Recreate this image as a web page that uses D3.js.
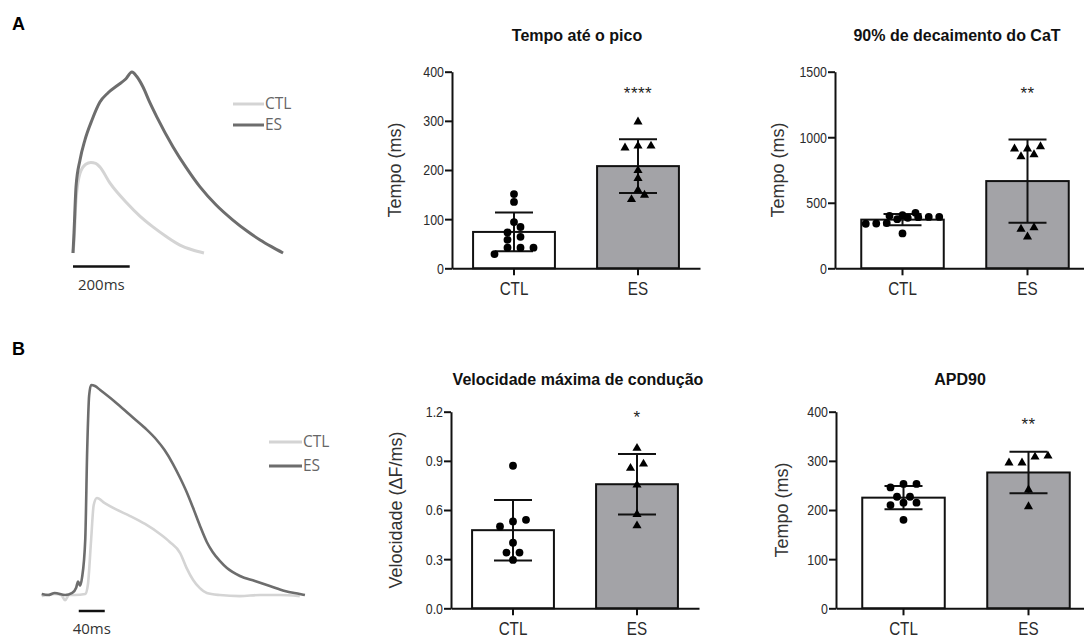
<!DOCTYPE html>
<html>
<head>
<meta charset="utf-8">
<script src="https://cdn.jsdelivr.net/npm/d3@7"></script>
<style>
  body { margin: 0; background: #fff; }
  svg { display: block; }
  .tick text { font-family: "Liberation Sans", Arial, sans-serif; fill: #2a2a2a; }
</style>
</head>
<body>
<div id="chart"></div>
<script>
// traços representativos: [tempo (ms), amplitude normalizada]
const transA_CTL = [[0,0],[3.5,0.06],[10.6,0.29],[24.7,0.44],[45,0.49],[63,0.50],[80,0.495],[95,0.475],[130,0.387],[190,0.276],[235,0.205],[282,0.144],[330,0.09],[377,0.044],[420,0.018],[462,0]];
const transA_ES = [[0,0],[3.5,0.11],[10.6,0.365],[24.7,0.514],[42,0.624],[67,0.735],[95,0.834],[123,0.884],[159,0.928],[185,0.96],[208,1.0],[225,0.975],[247,0.917],[270,0.835],[296,0.751],[353,0.586],[400,0.47],[448,0.365],[505,0.265],[564,0.182],[615,0.12],[660,0.072],[700,0.035],[741,0]];
const potB_CTL = [[0,-0.01],[20,0],[30,-0.005],[36,-0.03],[42,-0.005],[51,-0.005],[67,0],[71,0.043],[76,0.258],[80,0.426],[85,0.459],[97,0.435],[113,0.407],[136,0.373],[159,0.335],[182,0.287],[197,0.249],[213,0.196],[223,0.124],[233,0.067],[243,0.029],[254,0.005],[274,-0.005],[305,-0.01],[336,-0.005],[366,-0.005],[397,-0.01]];
const potB_ES = [[0,0],[10,-0.005],[20,0.005],[36,-0.005],[47,0.005],[53,0.03],[56,0.06],[59,0.04],[62,0.077],[67,0.26],[70,0.69],[73,0.95],[76,1.0],[82,0.995],[90,0.976],[113,0.919],[136,0.856],[159,0.794],[177,0.737],[189,0.689],[202,0.622],[213,0.555],[223,0.488],[233,0.411],[243,0.33],[254,0.249],[263,0.201],[274,0.158],[285,0.124],[305,0.086],[328,0.062],[351,0.038],[374,0.014],[397,0],[405,-0.005]];

// gráficos de barras
const grupos = ['CTL', 'ES'];
const picoCTL = [151, 135, 94, 84, 73, 58, 64, 29, 42, 42, 42];
const picoES = [298, 249, 245, 249, 199, 183, 159, 140, 149];
const decaiCTL = [392, 405, 423, 400, 392, 390, 375, 385, 345, 342, 340, 266];
const decaiES = [912, 929, 853, 868, 912, 311, 299, 240];
const velCTL = [0.87, 0.50, 0.54, 0.53, 0.40, 0.34, 0.34, 0.295];
const velES = [0.977, 0.881, 0.855, 0.753, 0.574, 0.504];
const apdCTL = [253, 253, 246, 227, 227, 215, 215, 210, 180];
const apdES = [296, 308, 310, 296, 241, 207];
const ticksPico = [0, 100, 200, 300, 400];
const ticksDecai = [0, 500, 1000, 1500];
const ticksVel = [0, 0.3, 0.6, 0.9, 1.2];
const ticksApd = [0, 100, 200, 300, 400];
const estrelas = ['****', '**', '*', '**'];

const width = 1084;
const height = 639;
const corCTL = '#d4d4d4';
const corES = '#6d6d6d';
const fonteTraco = '"Open Sans", "Noto Sans", sans-serif';

const svg = d3.select('#chart')
  .append('svg')
  .attr('width', width)
  .attr('height', height);

// letras dos painéis
svg.append('text').attr('x', 12).attr('y', 30).text('A')
  .style('font', 'bold 18px "Liberation Sans", Arial, sans-serif');
svg.append('text').attr('x', 12).attr('y', 355).text('B')
  .style('font', 'bold 18px "Liberation Sans", Arial, sans-serif');

// ---- traços ----
function desenhaTraco(cfg) {
  const x = d3.scaleLinear().domain(cfg.xDomain).range(cfg.xRange);
  const y = d3.scaleLinear().domain([0, 1]).range(cfg.yRange);
  const line = d3.line().x(d => x(d[0])).y(d => y(d[1])).curve(d3.curveMonotoneX);

  svg.append('path').datum(cfg.ctl)
    .attr('d', line).attr('fill', 'none')
    .attr('stroke', corCTL).attr('stroke-width', cfg.sw).attr('stroke-linejoin', 'round');
  svg.append('path').datum(cfg.es)
    .attr('d', line).attr('fill', 'none')
    .attr('stroke', corES).attr('stroke-width', cfg.sw).attr('stroke-linejoin', 'round');

  // barra de escala
  svg.append('line')
    .attr('x1', x(cfg.barra[0])).attr('x2', x(cfg.barra[1]))
    .attr('y1', cfg.barraY).attr('y2', cfg.barraY)
    .attr('stroke', '#111').attr('stroke-width', 2.5);
  svg.append('text')
    .attr('x', (x(cfg.barra[0]) + x(cfg.barra[1])) / 2)
    .attr('y', cfg.barraY + cfg.textoDy)
    .attr('text-anchor', 'middle')
    .style('font-family', fonteTraco).style('font-size', '15px').style('fill', '#333')
    .text((cfg.barra[1] - cfg.barra[0]) + 'ms');

  // legenda
  [['CTL', corCTL], ['ES', corES]].forEach((d, i) => {
    const ly = cfg.legY + i * cfg.legStep;
    svg.append('line')
      .attr('x1', cfg.legX).attr('x2', cfg.legX + cfg.legW)
      .attr('y1', ly).attr('y2', ly)
      .attr('stroke', d[1]).attr('stroke-width', 3);
    svg.append('text')
      .attr('x', cfg.legX + cfg.legW + 1).attr('y', ly + 5)
      .style('font-family', fonteTraco).style('font-size', '15.5px').style('fill', '#666')
      .text(d[0]);
  });
}

desenhaTraco({
  ctl: transA_CTL, es: transA_ES,
  xDomain: [0, 741], xRange: [73, 73 + 741 * 0.2835], yRange: [253, 72], sw: 3,
  barra: [0, 200], barraY: 266.5, textoDy: 23,
  legX: 233, legW: 31, legY: 104, legStep: 21
});
desenhaTraco({
  ctl: potB_CTL, es: potB_ES,
  xDomain: [0, 405], xRange: [41.7, 41.7 + 405 * 0.65], yRange: [594, 385], sw: 2.6,
  barra: [57, 97], barraY: 611, textoDy: 23,
  legX: 269, legW: 33, legY: 442, legStep: 24
});

// ---- barras ----
function dodge(vals, y, cx, passo, limiar) {
  const pts = vals.map(v => ({ v: v, py: y(v) })).sort((a, b) => b.py - a.py);
  const linhas = [];
  let linha = null;
  pts.forEach(p => {
    if (linha && linha[0].py - p.py <= limiar) linha.push(p);
    else { linha = [p]; linhas.push(linha); }
  });
  linhas.forEach(l => {
    const n = l.length;
    const s = Math.min(passo, 84 / n);
    l.forEach((p, i) => { p.px = cx + (i - (n - 1) / 2) * s; });
  });
  return pts;
}

function desenhaBarras(cfg) {
  const g = svg.append('g');
  const x = d3.scaleBand().domain(grupos).range([cfg.x0, cfg.x1])
    .paddingInner(0.34).paddingOuter(cfg.po);
  const y = d3.scaleLinear().domain([0, cfg.ticks[cfg.ticks.length - 1]]).range([cfg.yBot, cfg.yTop]);

  const series = [
    { g: 'CTL', vals: cfg.ctl, fill: '#fff', sym: 'c' },
    { g: 'ES', vals: cfg.es, fill: '#a3a3a7', sym: 't' }
  ];
  series.forEach(s => {
    s.mean = d3.mean(s.vals);
    s.sd = d3.deviation(s.vals);
  });

  g.selectAll('.bar').data(series).enter().append('rect')
    .attr('class', 'bar')
    .attr('x', d => x(d.g))
    .attr('y', d => y(d.mean))
    .attr('width', x.bandwidth())
    .attr('height', d => y(0) - y(d.mean))
    .attr('fill', d => d.fill)
    .attr('stroke', '#111').attr('stroke-width', 2);

  // barras de erro (média ± DP)
  series.forEach(s => {
    const cx = x(s.g) + x.bandwidth() / 2;
    const eg = g.append('g').attr('stroke', '#111').attr('stroke-width', 2);
    eg.append('line').attr('x1', cx).attr('x2', cx).attr('y1', y(s.mean + s.sd)).attr('y2', y(s.mean - s.sd));
    [s.mean + s.sd, s.mean - s.sd].forEach(v => {
      eg.append('line').attr('x1', cx - 19).attr('x2', cx + 19).attr('y1', y(v)).attr('y2', y(v));
    });
  });

  // pontos individuais
  series.forEach(s => {
    const cx = x(s.g) + x.bandwidth() / 2;
    const pts = dodge(s.vals, y, cx, 13, 7);
    if (s.sym === 'c') {
      g.selectAll(null).data(pts).enter().append('circle')
        .attr('cx', d => d.px).attr('cy', d => d.py).attr('r', 3.9).attr('fill', '#000');
    } else {
      g.selectAll(null).data(pts).enter().append('path')
        .attr('d', d3.symbol(d3.symbolTriangle, 36))
        .attr('transform', d => `translate(${d.px},${d.py})`).attr('fill', '#000');
    }
  });

  // eixos (rótulos comprimidos na horizontal, como no original)
  const ay = g.append('g')
    .attr('transform', `translate(${cfg.x0},0)`)
    .call(d3.axisLeft(y).tickValues(cfg.ticks).tickFormat(cfg.fmt).tickSize(7).tickSizeOuter(0).tickPadding(3));
  const ax = g.append('g')
    .attr('transform', `translate(0,${cfg.yBot})`)
    .call(d3.axisBottom(x).tickSize(7).tickSizeOuter(0).tickPadding(6));
  [ay, ax].forEach(a => {
    a.select('.domain').attr('stroke', '#111').attr('stroke-width', 2);
    a.selectAll('.tick line').attr('stroke', '#111').attr('stroke-width', 2);
    a.selectAll('.tick text').attr('transform', 'scale(0.8,1)');
  });
  ay.selectAll('.tick text').style('font-size', '15.5px');
  ax.selectAll('.tick text').style('font-size', '19px');

  // título
  g.append('text')
    .attr('x', cfg.titleX).attr('y', cfg.titleY)
    .attr('text-anchor', 'middle')
    .style('font', 'bold 16px "Liberation Sans", Arial, sans-serif').style('fill', '#111')
    .text(cfg.title);

  // rótulo y
  g.append('text')
    .attr('transform', `translate(${cfg.labelX},${(cfg.yTop + cfg.yBot) / 2}) rotate(-90)`)
    .attr('text-anchor', 'middle')
    .style('font', '18px "Liberation Sans", Arial, sans-serif').style('fill', '#333')
    .text(cfg.label);

  // significância
  g.append('text')
    .attr('x', x('ES') + x.bandwidth() / 2).attr('y', y(cfg.starV))
    .attr('text-anchor', 'middle')
    .style('font', '17px "Liberation Sans", Arial, sans-serif').style('fill', '#222')
    .style('letter-spacing', '0.5px')
    .text(cfg.star);
}

desenhaBarras({
  ctl: picoCTL, es: picoES, ticks: ticksPico, fmt: d3.format('d'),
  x0: 452, x1: 700, po: 0.17, yTop: 71.7, yBot: 268.3,
  title: 'Tempo até o pico', titleX: 577, titleY: 41,
  label: 'Tempo (ms)', labelX: 401, star: estrelas[0], starV: 345
});
desenhaBarras({
  ctl: decaiCTL, es: decaiES, ticks: ticksDecai, fmt: d3.format('d'),
  x0: 835, x1: 1095, po: 0.21, yTop: 71.7, yBot: 268.3,
  title: '90% de decaimento do CaT', titleX: 957, titleY: 41,
  label: 'Tempo (ms)', labelX: 784, star: estrelas[1], starV: 1295
});
desenhaBarras({
  ctl: velCTL, es: velES, ticks: ticksVel, fmt: d3.format('.1f'),
  x0: 451, x1: 699, po: 0.17, yTop: 411.7, yBot: 608.3,
  title: 'Velocidade máxima de condução', titleX: 578, titleY: 385,
  label: 'Velocidade (ΔF/ms)', labelX: 402, star: estrelas[2], starV: 1.13
});
desenhaBarras({
  ctl: apdCTL, es: apdES, ticks: ticksApd, fmt: d3.format('d'),
  x0: 836, x1: 1096, po: 0.21, yTop: 411.7, yBot: 608.3,
  title: 'APD90', titleX: 960, titleY: 385,
  label: 'Tempo (ms)', labelX: 788, star: estrelas[3], starV: 362
});
</script>
</body>
</html>
